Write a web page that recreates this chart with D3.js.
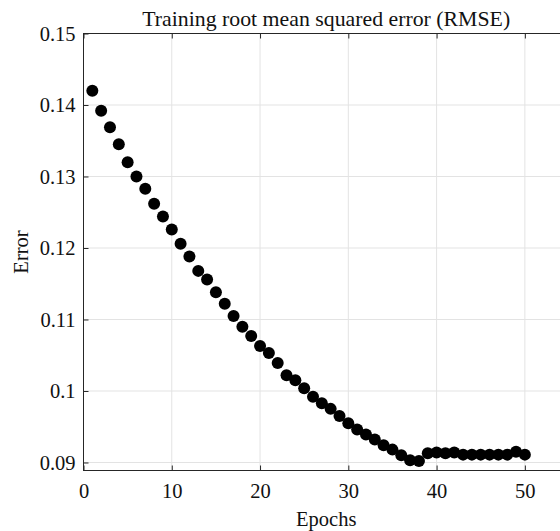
<!DOCTYPE html>
<html>
<head>
<meta charset="utf-8">
<script src="https://cdn.jsdelivr.net/npm/d3@7"></script>
<style>
  body { margin: 0; background: #fff; }
  svg { display: block; font-family: "Liberation Serif", "Times New Roman", serif; }
</style>
</head>
<body>
<svg id="canvas" width="560" height="531"></svg>
<script>
// Chart data
let epochs = d3.range(1, 51);
let rmse = [
  0.1420, 0.1392, 0.1369, 0.1345, 0.1320, 0.1300, 0.1283, 0.1262, 0.1244, 0.1226,
  0.1206, 0.1188, 0.1168, 0.1156, 0.1138, 0.1122, 0.1105, 0.1090, 0.1077, 0.1063,
  0.1053, 0.1039, 0.1022, 0.1015, 0.1004, 0.0992, 0.0983, 0.0975, 0.0965, 0.0955,
  0.0946, 0.0939, 0.0932, 0.0924, 0.0918, 0.0910, 0.0903, 0.0902, 0.0913, 0.0914,
  0.0913, 0.0914, 0.0911, 0.0911, 0.0911, 0.0911, 0.0911, 0.0911, 0.0915, 0.0911
];
let xTicks = [0, 10, 20, 30, 40, 50];
let yTicks = [0.09, 0.10, 0.11, 0.12, 0.13, 0.14, 0.15];
let yTickLabels = ['0.09', '0.1', '0.11', '0.12', '0.13', '0.14', '0.15'];
let title = 'Training root mean squared error (RMSE)';
let xLabel = 'Epochs';
let yLabel = 'Error';

let canvas = d3.select('#canvas');

// Plot box
let boxLeft = 83.5, boxRight = 569, boxTop = 33.5, boxBottom = 470.5;

let xScale = d3.scaleLinear().domain([0, 55]).range([boxLeft, boxRight]);
let yScale = d3.scaleLinear().domain([0.08888, 0.15]).range([boxBottom, boxTop]);

// Grid
canvas.append('g').selectAll('line')
  .data(xTicks.filter(d => d > 0))
  .enter().append('line')
  .attr('x1', d => xScale(d)).attr('x2', d => xScale(d))
  .attr('y1', boxTop).attr('y2', boxBottom)
  .attr('stroke', '#e3e3e3').attr('stroke-width', 1);

canvas.append('g').selectAll('line')
  .data(yTicks)
  .enter().append('line')
  .attr('x1', boxLeft).attr('x2', boxRight)
  .attr('y1', d => yScale(d)).attr('y2', d => yScale(d))
  .attr('stroke', '#e3e3e3').attr('stroke-width', 1);

// Axes
let styleAxis = (g) => {
  g.select('.domain').remove();
  g.selectAll('line').attr('stroke', '#262626');
  g.selectAll('text').attr('fill', '#111').style('font-size', '20.5px')
    .style('font-family', '"Liberation Serif", "Times New Roman", serif');
};

canvas.append('g')
  .attr('transform', `translate(0,${boxBottom})`)
  .call(d3.axisBottom(xScale).tickValues(xTicks).tickSize(-5).tickPadding(13))
  .call(styleAxis);

canvas.append('g')
  .attr('transform', `translate(0,${boxTop})`)
  .call(d3.axisTop(xScale).tickValues(xTicks).tickSize(-5).tickFormat(''))
  .call(styleAxis);

canvas.append('g')
  .attr('transform', `translate(${boxLeft},0)`)
  .call(d3.axisLeft(yScale).tickValues(yTicks).tickSize(-5).tickPadding(8)
    .tickFormat((d, i) => yTickLabels[i]))
  .call(styleAxis);

// Box lines
canvas.append('rect')
  .attr('x', boxLeft).attr('y', boxTop)
  .attr('width', boxRight - boxLeft).attr('height', boxBottom - boxTop)
  .attr('fill', 'none').attr('stroke', '#262626').attr('stroke-width', 1);

// Points
canvas.append('g').selectAll('circle')
  .data(epochs)
  .enter().append('circle')
  .attr('cx', d => xScale(d))
  .attr('cy', (d, i) => yScale(rmse[i]))
  .attr('r', 6)
  .attr('fill', '#000');

// Labels
canvas.append('text')
  .attr('x', (boxLeft + boxRight) / 2).attr('y', 26)
  .attr('text-anchor', 'middle')
  .style('font-size', '21.8px').attr('fill', '#111')
  .text(title);

canvas.append('text')
  .attr('x', (boxLeft + boxRight) / 2).attr('y', 526)
  .attr('text-anchor', 'middle')
  .style('font-size', '20.5px').attr('fill', '#111')
  .text(xLabel);

canvas.append('text')
  .attr('transform', `translate(28,${(boxTop + boxBottom) / 2}) rotate(-90)`)
  .attr('text-anchor', 'middle')
  .style('font-size', '20.5px').attr('fill', '#111')
  .text(yLabel);
</script>
</body>
</html>
